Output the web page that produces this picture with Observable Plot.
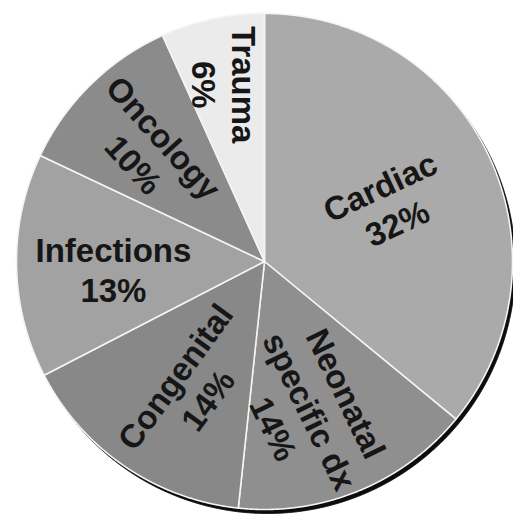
<!DOCTYPE html>
<html>
<head>
<meta charset="utf-8">
<script src="https://cdn.jsdelivr.net/npm/d3@7"></script>
<script src="https://cdn.jsdelivr.net/npm/@observablehq/plot@0.6"></script>
<style>
  html, body { margin: 0; padding: 0; background: #ffffff; }
  #chart svg { display: block; }
</style>
</head>
<body>
<div id="chart"></div>
<script>
// ---- data ----
const categories = ["Cardiac", "Neonatal\nspecific dx", "Congenital", "Infections", "Oncology", "Trauma"];
const percents = [32, 14, 14, 13, 10, 6];
const sliceColors = ["#aaaaaa", "#8f8f8f", "#888888", "#a2a2a2", "#8b8b8b", "#ebebeb"];

// ---- label layout (not data) ----
const labelRadius = [0.55, 0.63, 0.59, 0.61, 0.645, 0.73];
const labelAngleShift = [0.3, 5, -4, -2, -1.5, -0.4]; // degrees
const labelRotate = [-25, 64, -54, 0, 48, 90];

const arcs = d3.pie().sort(null).value(d => d)(percents);
const step = 0.003;

const slicePoints = [];
arcs.forEach((a, i) => {
  const name = categories[i];
  slicePoints.push({name, x: 0, y: 0});
  for (let t = a.startAngle; t < a.endAngle; t += step) {
    slicePoints.push({name, x: Math.sin(t), y: Math.cos(t)});
  }
  slicePoints.push({name, x: Math.sin(a.endAngle), y: Math.cos(a.endAngle)});
  slicePoints.push({name, x: 0, y: 0});
});

const circlePoints = d3.range(0, 2 * Math.PI + step, step).map(t => ({x: Math.sin(t), y: Math.cos(t)}));

const labels = arcs.map((a, i) => {
  const mid = (a.startAngle + a.endAngle) / 2 + labelAngleShift[i] * Math.PI / 180;
  return {
    text: `${categories[i]}\n${percents[i]}%`,
    x: labelRadius[i] * Math.sin(mid),
    y: labelRadius[i] * Math.cos(mid),
    rotate: labelRotate[i]
  };
});

const chart = Plot.plot({
  width: 513,
  height: 515,
  margin: 0,
  x: {domain: [-1, 1], range: [16, 512], axis: null},
  y: {domain: [-1, 1], range: [509, 13], axis: null},
  color: {domain: categories, range: sliceColors},
  style: {background: "#ffffff"},
  marks: [
    Plot.line(circlePoints, {x: "x", y: "y", fill: "#0c0c0c", stroke: "#0c0c0c", strokeWidth: 1, dx: 3, dy: 4}),
    Plot.line(slicePoints, {x: "x", y: "y", z: "name", fill: "name", stroke: "#f4f4f4", strokeWidth: 1.6, strokeLinejoin: "round"}),
    Plot.text(labels, {
      x: "x", y: "y", text: "text", rotate: "rotate",
      fontSize: 33, fontWeight: "bold",
      fontFamily: "'Liberation Sans', Arial, sans-serif",
      fill: "#161616", textAnchor: "middle", lineAnchor: "middle", lineHeight: 1.22
    })
  ]
});
document.getElementById("chart").appendChild(chart);
</script>
</body>
</html>
